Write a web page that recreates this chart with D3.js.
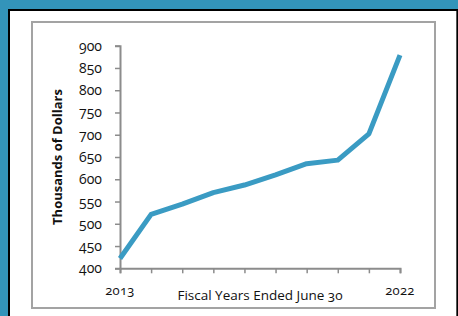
<!DOCTYPE html>
<html lang="en">
<head>
    <meta charset="UTF-8">
    <title>Thousands of Dollars, Fiscal Years 2013-2022</title>
    <script src="https://d3js.org/d3.v7.min.js"></script>
    <style>
        body { margin: 0; background: #3394ba; }
        svg { display: block; font-family: "Open Sans", Lato, sans-serif; }
        svg text { font-variant-numeric: oldstyle-nums; font-feature-settings: "onum" 1; }
    </style>
</head>
<body>
    <svg width="458" height="316"></svg>
    <script>
        const years = [2013, 2014, 2015, 2016, 2017, 2018, 2019, 2020, 2021, 2022];
        const values = [422, 521, 544, 570, 587, 610, 635, 643, 702, 879];
        const yTicks = [400, 450, 500, 550, 600, 650, 700, 750, 800, 850, 900];
        const labeledYears = [2013, 2022];

        const svg = d3.select('svg');

        // white panel with black edge
        svg.append('rect').attr('x', 9).attr('y', 10).attr('width', 448).attr('height', 320)
            .attr('fill', '#fff').attr('stroke', '#000').attr('stroke-width', 2);
        svg.append('line').attr('x1', 456.5).attr('x2', 456.5).attr('y1', 11).attr('y2', 316)
            .attr('stroke', '#555').attr('stroke-width', 1);

        // chart area border
        svg.append('rect').attr('x', 32).attr('y', 22).attr('width', 403).attr('height', 286)
            .attr('fill', 'none').attr('stroke', '#a3a3a3').attr('stroke-width', 2);

        const x = d3.scalePoint().domain(years).range([120, 400]);
        const y = d3.scaleLinear().domain([400, 900]).range([268.3, 45.7]);

        const yAxis = svg.append('g').attr('transform', 'translate(120,0)')
            .call(d3.axisLeft(y).tickValues(yTicks).tickSize(5).tickPadding(13));
        const xAxis = svg.append('g').attr('transform', 'translate(0,268.3)')
            .call(d3.axisBottom(x).tickSize(5).tickFormat(d => ''));

        [yAxis, xAxis].forEach(a => {
            a.attr('font-family', null);
            a.select('.domain').attr('stroke', '#8c8c8c').attr('stroke-width', 2);
            a.selectAll('.tick line').attr('stroke', '#8c8c8c').attr('stroke-width', 1.5);
        });
        yAxis.selectAll('.tick text').attr('font-size', 14).attr('fill', '#111');

        svg.append('g').selectAll('text').data(labeledYears).join('text')
            .attr('x', d => x(d)).attr('y', 295)
            .attr('text-anchor', 'middle').attr('font-size', 13).attr('letter-spacing', 0.3)
            .attr('fill', '#111').text(d => d);

        svg.append('text').attr('x', 260).attr('y', 300).attr('text-anchor', 'middle')
            .attr('font-size', 13.5).attr('fill', '#111').text('Fiscal Years Ended June 30');

        svg.append('text').attr('transform', 'translate(62,157) rotate(-90)')
            .attr('text-anchor', 'middle').attr('font-size', 13).attr('font-weight', 'bold')
            .attr('fill', '#111').text('Thousands of Dollars');

        const line = d3.line().x((d, i) => x(years[i])).y(d => y(d));
        svg.append('path').datum(values).attr('d', line)
            .attr('fill', 'none').attr('stroke', '#3a9bc3').attr('stroke-width', 5)
            .attr('stroke-linejoin', 'round');
    </script>
</body>
</html>
